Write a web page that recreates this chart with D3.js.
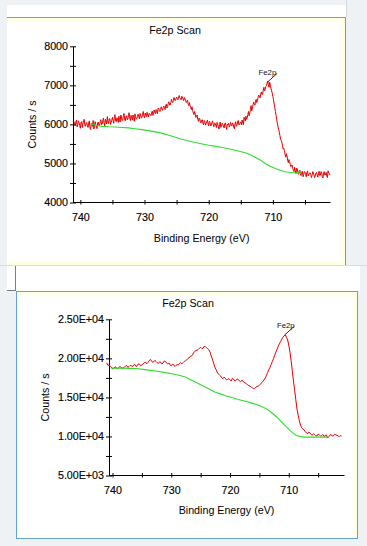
<!DOCTYPE html>
<html><head><meta charset="utf-8">
<script src="https://cdn.jsdelivr.net/npm/d3@7"></script>
<style>
html,body{margin:0;padding:0;background:#eff2f4;overflow:hidden;}
svg{display:block;font-family:"Liberation Sans",Arial,Helvetica,sans-serif;}
</style>
</head><body>
<svg id="c" width="367" height="546"></svg>
<script>
// ---------------- DATA ----------------
const chartTitle = "Fe2p Scan";
const xTitle = "Binding Energy (eV)";
const yTitle = "Counts / s";
const peakLabel = "Fe2p";

const xMajorTicks = [740, 735, 730, 725, 720, 715, 710, 705];
const xLabelTicks = [740, 730, 720, 710];

const topYTicks = [4000, 4500, 5000, 5500, 6000, 6500, 7000, 7500, 8000];
const topYLabels = [4000, 5000, 6000, 7000, 8000];
const botYTicks = [5000, 7500, 10000, 12500, 15000, 17500, 20000, 22500, 25000];
const botYLabels = [5000, 10000, 15000, 20000, 25000];

// upper scan: measured spectrum (channels at x.0/x.2/...)
const topEnergy = [
741.0,740.8,740.6,740.4,740.2,740.0,739.8,739.6,739.4,739.2,
739.0,738.8,738.6,738.4,738.2,738.0,737.8,737.6,737.4,737.2,
737.0,736.8,736.6,736.4,736.2,736.0,735.8,735.6,735.4,735.2,
735.0,734.8,734.6,734.4,734.2,734.0,733.8,733.6,733.4,733.2,
733.0,732.8,732.6,732.4,732.2,732.0,731.8,731.6,731.4,731.2,
731.0,730.8,730.6,730.4,730.2,730.0,729.8,729.6,729.4,729.2,
729.0,728.8,728.6,728.4,728.2,728.0,727.8,727.6,727.4,727.2,
727.0,726.8,726.6,726.4,726.2,726.0,725.8,725.6,725.4,725.2,
725.0,724.8,724.6,724.4,724.2,724.0,723.8,723.6,723.4,723.2,
723.0,722.8,722.6,722.4,722.2,722.0,721.8,721.6,721.4,721.2,
721.0,720.8,720.6,720.4,720.2,720.0,719.8,719.6,719.4,719.2,
719.0,718.8,718.6,718.4,718.2,718.0,717.8,717.6,717.4,717.2,
717.0,716.8,716.6,716.4,716.2,716.0,715.8,715.6,715.4,715.2,
715.0,714.8,714.6,714.4,714.2,714.0,713.8,713.6,713.4,713.2,
713.0,712.8,712.6,712.4,712.2,712.0,711.8,711.6,711.4,711.2,
711.0,710.8,710.6,710.4,710.2,710.0,709.8,709.6,709.4,709.2,
709.0,708.8,708.6,708.4,708.2,708.0,707.8,707.6,707.4,707.2,
707.0,706.8,706.6,706.4,706.2,706.0,705.8,705.6,705.4,705.2,
705.0,704.8,704.6,704.4,704.2,704.0,703.8,703.6,703.4,703.2,
703.0,702.8,702.6,702.4,702.2,702.0,701.8,701.6,701.4,701.2
];
const topCounts = [
6080,5960,6110,5990,6040,5900,6070,6010,6130,5950,
6050,5920,6090,5870,6030,6100,5940,6000,5890,6060,
5980,6120,6010,6160,5960,6090,6200,6020,6140,6050,
6180,6030,6250,6070,6140,6210,6060,6190,6110,6280,
6090,6220,6130,6300,6100,6170,6240,6080,6210,6150,
6260,6140,6230,6180,6330,6170,6240,6310,6190,6280,
6220,6340,6250,6310,6380,6270,6420,6330,6450,6360,
6470,6380,6520,6460,6580,6500,6640,6560,6690,6610,
6700,6630,6740,6660,6720,6650,6690,6620,6580,6520,
6560,6430,6450,6290,6330,6180,6240,6080,6150,6040,
6120,5990,6070,6030,6110,5960,6050,5980,6090,5940,
6030,5920,6010,5880,6060,5950,6000,5910,6040,5870,
5990,5930,6050,5960,6010,5890,6070,5980,6100,6000,
6060,6110,5990,6140,6210,6170,6330,6290,6480,6400,
6570,6490,6640,6610,6750,6680,6830,6780,6950,6900,
6990,7110,6950,7000,6860,6720,6520,6330,6120,5940,
5800,5620,5540,5370,5330,5160,5190,5020,5050,4920,
4960,4820,4900,4740,4860,4720,4830,4690,4800,4720,
4780,4660,4810,4700,4760,4640,4790,4710,4680,4770,
4650,4800,4700,4760,4630,4790,4720,4680,4810,4740
];
// upper scan: measured spectrum (channels at x.9/x.7/...)
const topEnergyB = [
740.9,740.7,740.5,740.3,740.1,739.9,739.7,739.5,739.3,739.1,
738.9,738.7,738.5,738.3,738.1,737.9,737.7,737.5,737.3,737.1,
736.9,736.7,736.5,736.3,736.1,735.9,735.7,735.5,735.3,735.1,
734.9,734.7,734.5,734.3,734.1,733.9,733.7,733.5,733.3,733.1,
732.9,732.7,732.5,732.3,732.1,731.9,731.7,731.5,731.3,731.1,
730.9,730.7,730.5,730.3,730.1,729.9,729.7,729.5,729.3,729.1,
728.9,728.7,728.5,728.3,728.1,727.9,727.7,727.5,727.3,727.1,
726.9,726.7,726.5,726.3,726.1,725.9,725.7,725.5,725.3,725.1,
724.9,724.7,724.5,724.3,724.1,723.9,723.7,723.5,723.3,723.1,
722.9,722.7,722.5,722.3,722.1,721.9,721.7,721.5,721.3,721.1,
720.9,720.7,720.5,720.3,720.1,719.9,719.7,719.5,719.3,719.1,
718.9,718.7,718.5,718.3,718.1,717.9,717.7,717.5,717.3,717.1,
716.9,716.7,716.5,716.3,716.1,715.9,715.7,715.5,715.3,715.1,
714.9,714.7,714.5,714.3,714.1,713.9,713.7,713.5,713.3,713.1,
712.9,712.7,712.5,712.3,712.1,711.9,711.7,711.5,711.3,711.1,
710.9,710.7,710.5,710.3,710.1,709.9,709.7,709.5,709.3,709.1,
708.9,708.7,708.5,708.3,708.1,707.9,707.7,707.5,707.3,707.1,
706.9,706.7,706.5,706.3,706.1,705.9,705.7,705.5,705.3,705.1,
704.9,704.7,704.5,704.3,704.1,703.9,703.7,703.5,703.3,703.1,
702.9,702.7,702.5,702.3,702.1,701.9,701.7,701.5,701.3,701.1
];
const topCountsB = [
5990,6060,5940,6090,5970,6050,5920,6100,5980,6030,
5960,6040,5910,6010,5950,5880,6070,5930,6040,5970,
6070,5990,6100,6040,6130,6010,6060,6150,6000,6110,
6100,6200,6090,6170,6050,6120,6240,6100,6220,6130,
6190,6120,6260,6160,6230,6110,6180,6270,6130,6200,
6200,6280,6160,6260,6210,6290,6200,6230,6280,6240,
6290,6230,6370,6280,6330,6400,6350,6380,6400,6430,
6430,6480,6420,6540,6500,6560,6580,6610,6620,6660,
6660,6710,6680,6630,6700,6610,6650,6560,6620,6480,
6480,6380,6360,6250,6260,6210,6130,6160,6060,6110,
6030,6100,5980,6060,6010,6080,5960,6050,6000,6030,
5980,6050,5940,6000,5920,6030,5960,6020,5950,6010,
6030,5960,6000,6040,5930,6020,5950,6060,5990,6050,
5990,6060,6180,6090,6130,6250,6220,6380,6350,6500,
6520,6600,6560,6700,6720,6770,6760,6880,6860,6970,
7060,7020,7080,6930,6800,6630,6430,6230,6020,5870,
5710,5590,5450,5390,5230,5250,5080,5100,4980,4950,
4870,4790,4810,4880,4760,4800,4740,4780,4660,4790,
4720,4770,4680,4750,4720,4690,4760,4640,4750,4710,
4740,4690,4790,4660,4750,4700,4770,4640,4760,4700
];
// upper scan: background
const topBgEnergy = [738.4,737.5,736.6,735.5,734.5,733.5,732.5,731.5,730.4,729.4,728.3,727.2,726.2,725.2,724.2,723.1,722.1,721.0,720.0,718.9,717.9,716.9,715.9,714.3,713.5,712.7,711.9,711.2,710.4,709.6,708.8,708.1,707.3,706.5,705.5];
const topBgCounts = [6020,5970,5950,5940,5935,5922,5910,5890,5867,5840,5808,5770,5722,5672,5620,5575,5535,5500,5468,5438,5408,5375,5340,5272,5220,5153,5080,5000,4930,4872,4820,4787,4768,4762,4753];

// lower scan: measured spectrum (channels at x.0/x.4/x.8 ...)
const botEnergy = [
741.0,740.6,740.2,739.8,739.4,739.0,738.6,738.2,737.8,737.4,
737.0,736.6,736.2,735.8,735.4,735.0,734.6,734.2,733.8,733.4,
733.0,732.6,732.2,731.8,731.4,731.0,730.6,730.2,729.8,729.4,
729.0,728.6,728.2,727.8,727.4,727.0,726.6,726.2,725.8,725.4,
725.0,724.6,724.2,723.8,723.4,723.0,722.6,722.2,721.8,721.4,
721.0,720.6,720.2,719.8,719.4,719.0,718.6,718.2,717.8,717.4,
717.0,716.6,716.2,715.8,715.4,715.0,714.6,714.2,713.8,713.4,
713.0,712.6,712.2,711.8,711.4,711.0,710.6,710.2,709.8,709.4,
709.0,708.6,708.2,707.8,707.4,707.0,706.6,706.2,705.8,705.4,
705.0,704.6,704.2,703.8,703.4,703.0,702.6,702.2,701.8,701.4,
701.0
];
const botCounts = [
19450,19150,18900,18700,18850,18750,18900,18800,19000,18850,
19100,18950,19200,19050,19250,19150,19400,19300,19650,19750,
19550,19600,19350,19500,19400,19600,19300,19150,19250,18950,
19200,19350,19300,19600,19800,20050,20300,20700,21000,21150,
21400,21300,21500,21250,20800,19900,18900,18250,17900,17500,
17600,17250,17400,17100,17350,17150,17300,17000,17100,16850,
16600,16450,16250,16150,16400,16550,16900,17250,17800,18550,
19200,19950,20800,21550,22150,22700,23000,22350,20800,18400,
15900,13500,12000,11100,10850,10450,10550,10250,10350,10100,
10300,10050,10250,10100,9800,10150,10050,10300,10150,10000,
10050
];
// lower scan: measured spectrum (channels at x.2/x.6 ...)
const botEnergyB = [
740.8,740.4,740.0,739.6,739.2,738.8,738.4,738.0,737.6,737.2,
736.8,736.4,736.0,735.6,735.2,734.8,734.4,734.0,733.6,733.2,
732.8,732.4,732.0,731.6,731.2,730.8,730.4,730.0,729.6,729.2,
728.8,728.4,728.0,727.6,727.2,726.8,726.4,726.0,725.6,725.2,
724.8,724.4,724.0,723.6,723.2,722.8,722.4,722.0,721.6,721.2,
720.8,720.4,720.0,719.6,719.2,718.8,718.4,718.0,717.6,717.2,
716.8,716.4,716.0,715.6,715.2,714.8,714.4,714.0,713.6,713.2,
712.8,712.4,712.0,711.6,711.2,710.8,710.4,710.0,709.6,709.2,
708.8,708.4,708.0,707.6,707.2,706.8,706.4,706.0,705.6,705.2,
704.8,704.4,704.0,703.6,703.2,702.8,702.4,702.0,701.6,701.2
];
const botCountsB = [
19100,19000,18650,18900,18650,18950,18700,18850,19100,18950,
19050,19150,18950,19300,19050,19300,19550,19450,19850,19500,
19750,19450,19550,19300,19650,19400,19400,19050,19200,19100,
19150,19450,19450,19650,19950,20250,20400,20900,21050,21300,
21250,21550,21350,21100,20300,19400,18600,18000,17750,17400,
17450,17300,17250,17450,17100,17350,17100,17200,16900,16750,
16500,16300,16100,16300,16450,16700,17050,17500,18200,18850,
19600,20400,21150,21850,22450,22900,22700,21700,19700,17100,
14700,12700,11450,10950,10600,10350,10450,10150,10250,10050,
10200,10100,10000,10200,9950,10250,10100,10200,10050,10100
];
// lower scan: background
const botBgEnergy = [740.2,738.4,737.0,735.6,734.2,732.7,731.3,729.9,728.7,727.6,726.8,725.9,725.0,724.2,723.4,722.6,721.7,720.9,719.7,718.6,717.4,716.3,715.4,714.6,713.7,712.9,712.0,711.2,710.5,709.8,709.2,708.7,708.0,707.3,705.6,703.4];
const botBgCounts = [18750,18750,18720,18670,18530,18370,18200,18030,17830,17600,17300,16960,16620,16320,16000,15680,15450,15250,14980,14740,14500,14270,14060,13840,13500,13030,12460,11840,11280,10770,10400,10130,9980,9915,9915,9915];

// peak annotation positions (energy, counts)
const topPeak = [710.8, 7090];
const botPeak = [710.7, 23000];

// ---------------- DRAW ----------------
const svg = d3.select("#c");
const FONT = 10.7;
const BLUE = "#62a0d8", YEL = "#ffffe3", BG = "#eff2f4";

// window chrome
svg.append("rect").attr("x",0).attr("y",0).attr("width",367).attr("height",546).attr("fill",BG);
svg.append("rect").attr("x",7).attr("y",5).attr("width",340).attr("height",12).attr("fill","#fff");
svg.append("line").attr("x1",346.5).attr("x2",346.5).attr("y1",0).attr("y2",17).attr("stroke","#d5d8db");
// top panel frame (bottom/left cut off)
svg.append("rect").attr("x",7).attr("y",17).attr("width",339).attr("height",248).attr("fill",YEL);
svg.append("rect").attr("x",7).attr("y",21).attr("width",335).attr("height",240.5).attr("fill","#fff");
svg.append("line").attr("x1",7).attr("x2",346).attr("y1",17.5).attr("y2",17.5).attr("stroke",BLUE);
svg.append("line").attr("x1",345.5).attr("x2",345.5).attr("y1",17.5).attr("y2",265).attr("stroke",BLUE);
// gap strip
svg.append("rect").attr("x",7).attr("y",265).attr("width",353).attr("height",26).attr("fill","#fff");
svg.append("line").attr("x1",0).attr("x2",367).attr("y1",265.5).attr("y2",265.5).attr("stroke","#d9dcdf");
svg.append("line").attr("x1",15.5).attr("x2",15.5).attr("y1",266).attr("y2",291).attr("stroke","#7d7d7d");
svg.append("line").attr("x1",7).attr("x2",16).attr("y1",290.5).attr("y2",290.5).attr("stroke","#7d7d7d");
// bottom panel frame
svg.append("rect").attr("x",16.5).attr("y",291.5).attr("width",341).attr("height",247).attr("fill",YEL).attr("stroke",BLUE);
svg.append("rect").attr("x",20).attr("y",295).attr("width",334).attr("height",240).attr("fill","#fff");

function sciFmt(v){
  const parts = v.toExponential(2).split("e");
  const ex = parseInt(parts[1],10);
  return parts[0] + "E" + (ex < 0 ? "-" : "+") + String(Math.abs(ex)).padStart(2,"0");
}

function drawPanel(p){
  const g = svg.append("g");
  const x = d3.scaleLinear().domain(p.xDomain).range([p.left, p.right]);
  const y = d3.scaleLinear().domain(p.yDomain).range([p.bottom, p.top]);

  // x axis
  const xa = g.append("g").attr("transform",`translate(0,${p.axisY})`)
    .call(d3.axisBottom(x).tickValues(xMajorTicks).tickSizeInner(0).tickSizeOuter(0).tickPadding(11)
      .tickFormat(v => xLabelTicks.includes(v) ? String(v) : ""));
  xa.selectAll(".tick line").attr("y1",-2).attr("y2",2.5);
  // y axis
  const ya = g.append("g").attr("transform",`translate(${p.axisX},0)`)
    .call(d3.axisLeft(y).tickValues(p.yTicks).tickSizeInner(0).tickSizeOuter(0).tickPadding(5)
      .tickFormat(v => p.yLabels.includes(v) ? p.fmt(v) : ""));
  ya.selectAll(".tick line").attr("x1",-3).attr("x2",3);
  g.selectAll(".tick line, .domain").attr("stroke","#000");
  g.selectAll(".tick text").attr("font-size",FONT).attr("font-family","Liberation Sans, Arial, sans-serif")
    .attr("fill","#000").attr("stroke","#000").attr("stroke-width",0.15);

  // titles
  g.append("text").attr("x",p.titleX).attr("y",p.titleY).attr("text-anchor","middle")
    .attr("font-size",FONT).attr("fill","#000").text(chartTitle);
  g.append("text").attr("x",(p.left+p.right)/2).attr("y",p.xTitleY).attr("text-anchor","middle")
    .attr("font-size",FONT).attr("fill","#000").text(xTitle);
  g.append("text").attr("transform",`translate(${p.yTitleX},${(p.top+p.bottom)/2}) rotate(-90)`)
    .attr("text-anchor","middle").attr("font-size",FONT).attr("fill","#000").text(yTitle);

  const line = d3.line().x(d => x(d[0])).y(d => y(d[1]));
  const spectrum = d3.sort(d3.zip(p.energy, p.counts).concat(d3.zip(p.energyB, p.countsB)), d => -d[0]);
  g.append("path").datum(spectrum).attr("d",line)
    .attr("fill","none").attr("stroke","#e30000").attr("stroke-width",1).attr("stroke-linejoin","round");
  g.append("path").datum(d3.zip(p.bgEnergy, p.bgCounts)).attr("d",line)
    .attr("fill","none").attr("stroke","#2fdc2f").attr("stroke-width",1.1);

  // peak annotation
  const px = x(p.peak[0]), py = y(p.peak[1]);
  g.append("line").attr("x1",px+9.5).attr("y1",py-8.5).attr("x2",px).attr("y2",py)
    .attr("stroke","#000").attr("stroke-width",0.8);
  g.append("text").attr("x",px+p.labDx).attr("y",py-7.3).attr("text-anchor","end")
    .attr("font-size",7.8).attr("fill","#111").text(peakLabel);
}

drawPanel({
  xDomain:[741.1,701.1], yDomain:[4000,8000],
  left:73.3, right:330, top:46.3, bottom:202.5,
  axisX:73, axisY:202,
  yTicks:topYTicks, yLabels:topYLabels, fmt:v => String(v),
  titleX:175, titleY:33.9, xTitleY:241.5, yTitleX:35.5,
  energy:topEnergy, counts:topCounts, energyB:topEnergyB, countsB:topCountsB,
  bgEnergy:topBgEnergy, bgCounts:topBgCounts,
  peak:topPeak, labDx:8.5
});
drawPanel({
  xDomain:[740.6,700.6], yDomain:[5000,25000],
  left:109, right:344, top:319.3, bottom:475.5,
  axisX:109, axisY:475,
  yTicks:botYTicks, yLabels:botYLabels, fmt:sciFmt,
  titleX:188, titleY:307.2, xTitleY:513.9, yTitleX:49,
  energy:botEnergy, counts:botCounts, energyB:botEnergyB, countsB:botCountsB,
  bgEnergy:botBgEnergy, bgCounts:botBgCounts,
  peak:botPeak, labDx:10
});
</script>
</body></html>
